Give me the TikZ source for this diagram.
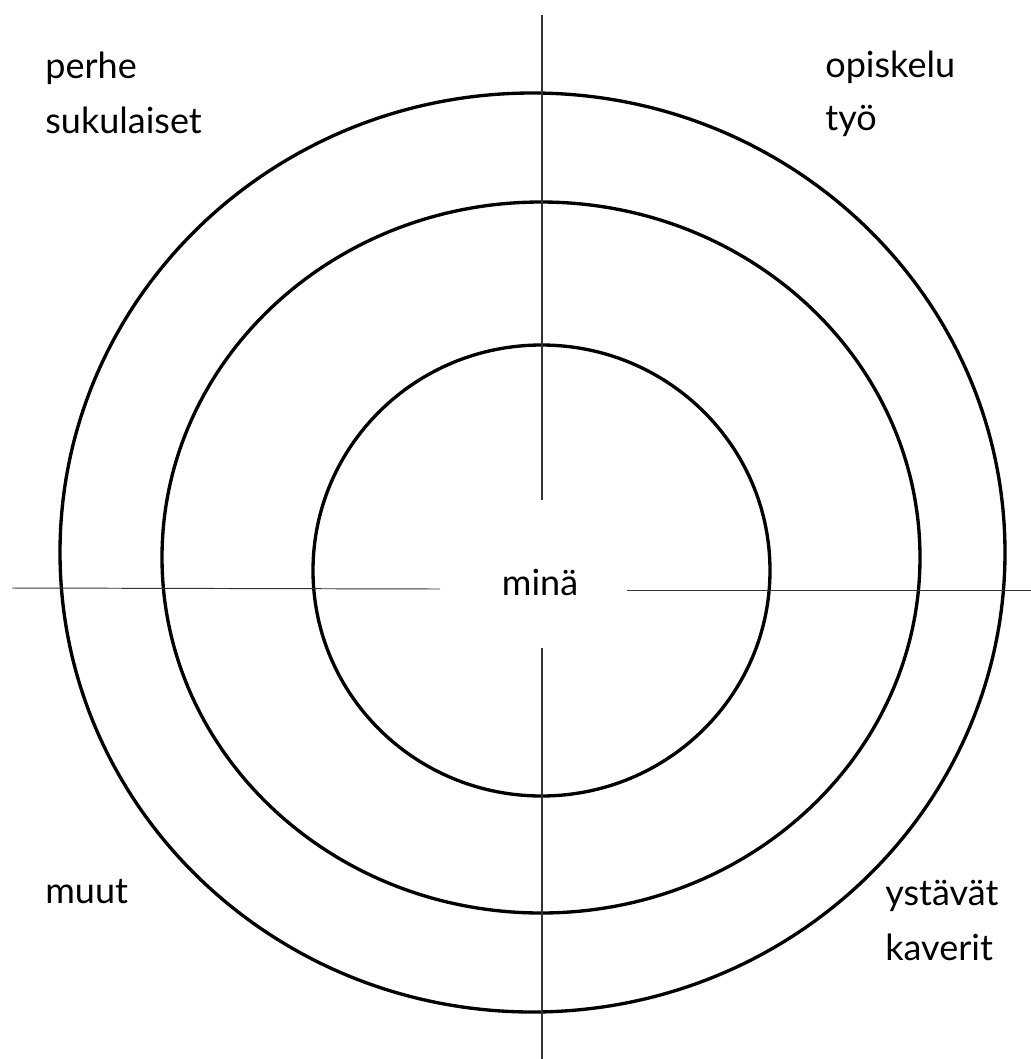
\documentclass[tikz,border=0pt]{standalone}
\usepackage{fontspec}
\setmainfont{Lato}
\usepackage{tikz}
\usetikzlibrary{positioning}
\tikzset{
  ring/.style={draw=black, line width=1.9pt},
  axis/.style={draw=black!80, line width=0.7pt},
  word/.style={anchor=base west, inner sep=0pt, font=\fontsize{20.5}{24}\selectfont}
}

\begin{document}
\begin{tikzpicture}[x=0.02cm, y=-0.02cm]
  \useasboundingbox (0,0) rectangle (1031,1059);

  % rings
  \draw[ring] (532.5,552.5) ellipse [x radius=472.5, y radius=459.5];
  \draw[ring] (541,557.5) ellipse [x radius=379, y radius=355.5];
  \draw[ring] (541.5,570.5) ellipse [x radius=228.5, y radius=225.5];

  % axis ends
  \coordinate (top) at (542,15);
  \coordinate (topin) at (542,500);
  \coordinate (botin) at (542,648);
  \coordinate (bot) at (542,1059);
  \coordinate (left) at (12,588);
  \coordinate (leftin) at (440,589);
  \coordinate (rightin) at (627,590);
  \coordinate (right) at (1031,590);

  \draw[axis] (top) -- (topin);
  \draw[axis] (botin) -- (bot);
  \draw[axis, line width=0.55pt] (left) -- (leftin);
  \draw[axis, line width=0.55pt] (rightin) -- (right);

  % labels
  \node[word, anchor=base] (mina) at (540,595) {minä};
  \node[word] (perhe) at (45,78) {perhe};
  \node[word] (suku) at (45,133) {sukulaiset};
  \node[word] (opiskelu) at (825,77) {opiskelu};
  \node[word] (tyo) at (825,130) {työ};
  \node[word] (muut) at (45,903) {muut};
  \node[word] (ystavat) at (885,905) {ystävät};
  \node[word] (kaverit) at (885,960) {kaverit};
\end{tikzpicture}
\end{document}
